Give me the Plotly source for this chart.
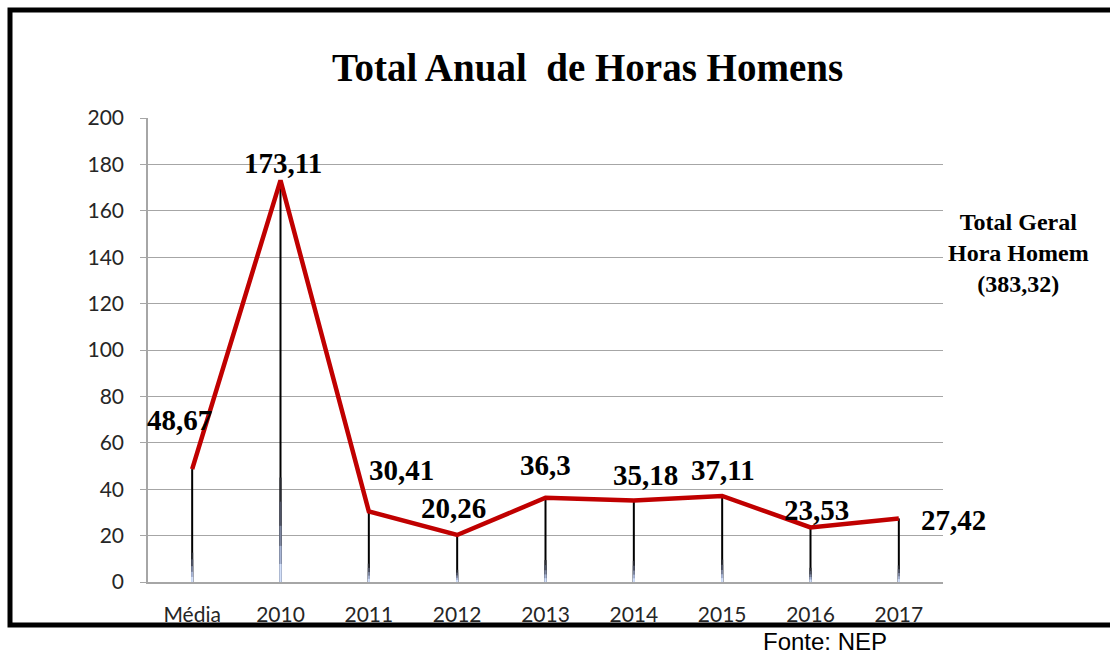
import plotly.graph_objects as go

categories = ["Média", "2010", "2011", "2012", "2013", "2014", "2015", "2016", "2017"]
values = [48.67, 173.11, 30.41, 20.26, 36.3, 35.18, 37.11, 23.53, 27.42]
labels = ["48,67", "173,11", "30,41", "20,26", "36,3", "35,18", "37,11", "23,53", "27,42"]
y_ticks = [0, 20, 40, 60, 80, 100, 120, 140, 160, 180, 200]

# label offsets (pixels) relative to each point
label_shift = [(-13, 49), (2, 17), (33, 41), (-4, 27), (0, 33), (12, 25), (1, 26), (6, 17), (55, -2)]

# drop-line fade: (fraction of line height, colour) from black towards pale blue
fade_steps = [(1.0, "#000000"), (0.26, "#2a2c33"), (0.2, "#4f5466"), (0.14, "#7d86a0"),
              (0.09, "#a9b6d6"), (0.045, "#d3e0fa")]

W, H = 1110, 654
L, R, T, B = 148, 167, 118, 72
pw, ph = W - L - R, H - T - B

def px(x):
    return (x - L) / pw

def py(y):
    return (H - B - y) / ph

fig = go.Figure()

# drop lines from each point down to zero (with fading bottom)
for frac, col in fade_steps:
    tops = [v * frac for v in values]
    fig.add_trace(go.Scatter(
        x=categories, y=tops, mode="markers",
        marker=dict(size=1, color="rgba(0,0,0,0)"),
        error_y=dict(type="data", symmetric=False, array=[0] * len(tops),
                     arrayminus=tops, width=0, thickness=2, color=col),
        hoverinfo="skip", showlegend=False,
    ))

fig.add_trace(go.Scatter(
    x=categories, y=values, mode="lines",
    line=dict(color="#C00000", width=4.5),
    showlegend=False,
))

serif = "Liberation Serif, Times New Roman, serif"
for i, (v, t, (dx, dy)) in enumerate(zip(values, labels, label_shift)):
    fig.add_annotation(x=i, y=v, xref="x", yref="y", text=f"<b>{t}</b>",
                       showarrow=False, xshift=dx, yshift=dy,
                       xanchor="center", yanchor="middle",
                       font=dict(family=serif, size=29, color="black"))

fig.add_annotation(x=px(587), y=py(68), xref="paper", yref="paper",
                   xanchor="center", yanchor="middle",
                   text="<b>Total Anual  de Horas Homens</b>", showarrow=False,
                   font=dict(family=serif, size=39, color="black"))

fig.add_annotation(x=px(1018), y=py(253), xref="paper", yref="paper",
                   xanchor="center", yanchor="middle",
                   text="<b>Total Geral<br>Hora Homem<br>(383,32)</b>", showarrow=False,
                   align="center",
                   font=dict(family=serif, size=24, color="black"))

fig.add_annotation(x=px(825), y=py(641), xref="paper", yref="paper",
                   xanchor="center", yanchor="middle",
                   text="Fonte: NEP", showarrow=False,
                   font=dict(family="Liberation Sans, Arial, sans-serif", size=24, color="black"))

# outer frame
fig.add_shape(type="rect", xref="paper", yref="paper",
              x0=px(10), x1=px(1125), y0=py(625), y1=py(10),
              line=dict(color="black", width=5), layer="below")

fig.update_layout(
    width=W, height=H,
    margin=dict(l=L, r=R, t=T, b=B),
    paper_bgcolor="white", plot_bgcolor="white",
    xaxis=dict(type="category", range=[-0.5, len(categories) - 0.5],
               showgrid=False, showline=True, linecolor="#A6A6A6",
               linewidth=1.5, ticks="", ticklabelstandoff=13,
               tickfont=dict(family="Lato, Open Sans, sans-serif", size=21, color="#262626")),
    yaxis=dict(range=[0, 200], tickvals=y_ticks, showgrid=True, gridcolor="#A6A6A6",
               gridwidth=1.3, showline=True, linecolor="#A6A6A6", linewidth=1.5,
               ticks="outside", ticklen=6, tickcolor="#A6A6A6", zeroline=False,
               ticklabelstandoff=12,
               tickfont=dict(family="Lato, Open Sans, sans-serif", size=21, color="#262626")),
)

fig.write_html("out.html", config={"displayModeBar": False},
               post_script="document.body.style.margin='0';")
